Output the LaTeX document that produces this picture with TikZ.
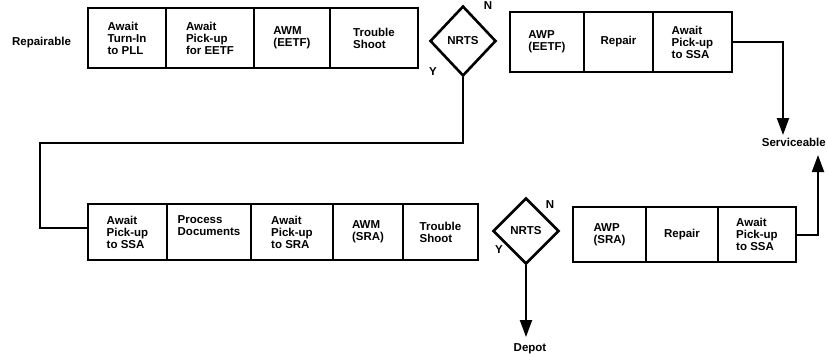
\documentclass[tikz,border=0pt]{standalone}
\usepackage{fontspec}
\setmainfont{Liberation Sans}
\usetikzlibrary{shapes.geometric,arrows.meta}
\begin{document}
\begin{tikzpicture}[x=1pt,y=-1pt,
  lbl/.style={font=\fontsize{11.5}{12}\selectfont\bfseries, inner sep=0pt},
  cell/.style={lbl, draw, line width=1.8pt, align=left, minimum width=#1},
  rowA/.style={minimum height=60pt},
  rowB/.style={minimum height=60pt},
  rowC/.style={minimum height=56pt},
  rowD/.style={minimum height=55pt},
  dia/.style={lbl, draw, diamond, line width=2.6pt, aspect=1},
  conn/.style={line width=2pt},
  tip/.style={conn, -{Triangle[length=17pt,width=12pt]}}]
\useasboundingbox (0,0) rectangle (828,356);

% repairable flow, first pass
\node[lbl] (rep) at (41.5,43) {Repairable};
\node[cell=78pt, rowA] (t1) at (127,38) {Await\\Turn-In\\to PLL};
\node[cell=88pt, rowA] (t2) at (210,38) {Await\\Pick-up\\for EETF};
\node[cell=76pt, rowA] (t3) at (292,38) {AWM\\(EETF)};
\node[cell=88pt, rowA] (t4) at (374,38) {Trouble\\Shoot};

\node[dia, minimum width=66pt, minimum height=70pt] (d1) at (463,41) {NRTS};
\node[lbl] (n1) at (488,6) {N};
\node[lbl] (y1) at (433,72) {Y};

\node[cell=74pt, rowB] (u1) at (547,42) {AWP\\(EETF)};
\node[cell=69pt, rowB] (u2) at (618.5,42) {Repair};
\node[cell=79pt, rowB] (u3) at (692.5,42) {Await\\Pick-up\\to SSA};

\node[lbl, anchor=east] (serv) at (826,142) {Serviceable};
\coordinate (sv1) at (783,135);
\coordinate (sv2) at (818,155);

% second pass through the SRA
\node[cell=79pt, rowC] (b1) at (127.5,232) {Await\\Pick-up\\to SSA};
\node[cell=84pt, rowC] (b2) at (209,232) {Process\\Documents\\\mbox{}};
\node[cell=82pt, rowC] (b3) at (292,232) {Await\\Pick-up\\to SRA};
\node[cell=70pt, rowC] (b4) at (368,232) {AWM\\(SRA)};
\node[cell=75pt, rowC] (b5) at (440.5,232) {Trouble\\Shoot};

\node[dia, minimum width=66pt, minimum height=66pt] (d2) at (526,231) {NRTS};
\node[lbl] (n2) at (550,205) {N};
\node[lbl] (y2) at (499,250) {Y};

\node[lbl] (depot) at (530,349) {Depot};
\coordinate (dp) at (526,337);

\node[cell=73pt, rowD] (r1) at (609.5,234.5) {AWP\\(SRA)};
\node[cell=72pt, rowD] (r2) at (682,234.5) {Repair};
\node[cell=78pt, rowD] (r3) at (757,234.5) {Await\\Pick-up\\to SSA};

% connectors
\draw[tip] (u3.east) -| (sv1);
\draw[conn] (d1.south) |- (40,143) |- ([yshift=4pt]b1.west);
\draw[tip] (d2.south) -- (dp);
\draw[tip] (r3.east) -| (sv2);
\end{tikzpicture}
\end{document}
